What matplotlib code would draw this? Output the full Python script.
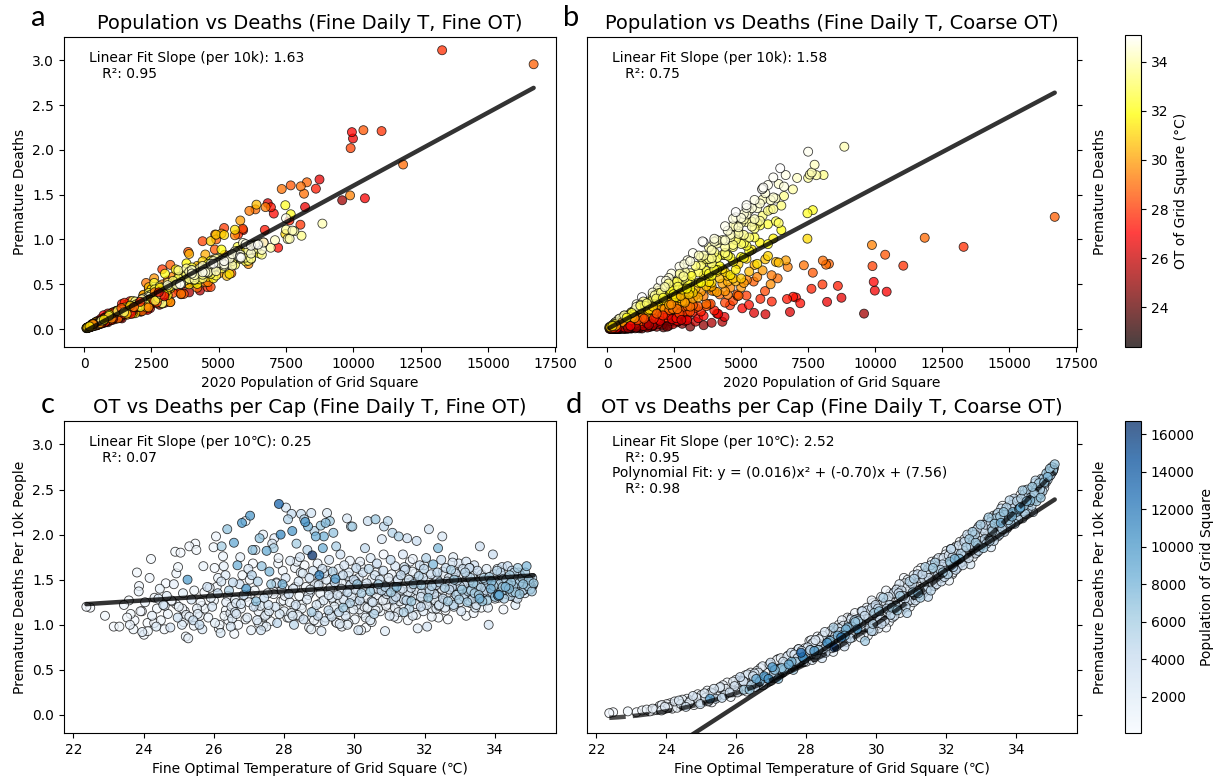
import numpy as np
import matplotlib
matplotlib.use("Agg")
import matplotlib.pyplot as plt

# ---- data (one entry per grid square) ----
ot_fine = [
    22.37, 22.48, 22.90, 23.15, 23.31, 23.44, 23.53, 23.61, 23.63, 23.71,
    23.74, 23.81, 23.86, 23.87, 23.91, 23.96, 24.01, 24.04, 24.11, 24.17,
    24.21, 24.24, 24.31, 24.36, 24.38, 24.46, 24.49, 24.56, 24.59, 24.66,
    24.69, 24.76, 24.79, 24.86, 24.90, 24.93, 24.97, 25.00, 25.05, 25.09,
    25.12, 25.17, 25.20, 25.25, 25.27, 25.30, 25.36, 25.41, 25.44, 25.47,
    25.50, 25.54, 25.59, 25.62, 25.67, 25.70, 25.74, 25.81, 25.84, 25.91,
    25.95, 25.99, 26.03, 26.06, 26.11, 26.14, 26.19, 26.22, 26.26, 26.28,
    26.30, 26.33, 26.35, 26.38, 26.41, 26.43, 26.48, 26.50, 26.54, 26.57,
    26.60, 26.64, 26.67, 26.69, 26.73, 26.75, 26.77, 26.80, 26.85, 26.90,
    26.92, 26.95, 26.98, 27.00, 27.03, 27.06, 27.08, 27.10, 27.13, 27.16,
    27.18, 27.20, 27.23, 27.25, 27.27, 27.30, 27.34, 27.36, 27.40, 27.43,
    27.46, 27.50, 27.53, 27.55, 27.58, 27.61, 27.63, 27.66, 27.70, 27.72,
    27.75, 27.78, 27.80, 27.83, 27.85, 27.87, 27.90, 27.93, 27.95, 27.98,
    28.00, 28.04, 28.05, 28.09, 28.11, 28.13, 28.16, 28.17, 28.21, 28.23,
    28.26, 28.28, 28.31, 28.33, 28.35, 28.38, 28.41, 28.43, 28.45, 28.48,
    28.50, 28.53, 28.55, 28.57, 28.60, 28.62, 28.65, 28.66, 28.68, 28.71,
    28.72, 28.74, 28.77, 28.78, 28.80, 28.82, 28.85, 28.86, 28.88, 28.90,
    28.92, 28.95, 28.96, 28.98, 29.00, 29.03, 29.04, 29.06, 29.09, 29.10,
    29.12, 29.13, 29.15, 29.18, 29.20, 29.22, 29.25, 29.26, 29.28, 29.30,
    29.32, 29.35, 29.36, 29.38, 29.40, 29.43, 29.44, 29.46, 29.48, 29.50,
    29.52, 29.55, 29.56, 29.59, 29.60, 29.63, 29.64, 29.67, 29.68, 29.71,
    29.72, 29.75, 29.76, 29.79, 29.80, 29.83, 29.84, 29.87, 29.88, 29.90,
    29.92, 29.94, 29.97, 29.98, 30.01, 30.02, 30.05, 30.06, 30.08, 30.11,
    30.12, 30.15, 30.16, 30.19, 30.20, 30.23, 30.24, 30.27, 30.28, 30.30,
    30.32, 30.35, 30.36, 30.38, 30.41, 30.42, 30.45, 30.46, 30.49, 30.50,
    30.52, 30.55, 30.56, 30.58, 30.60, 30.63, 30.64, 30.67, 30.68, 30.70,
    30.72, 30.74, 30.77, 30.78, 30.81, 30.82, 30.84, 30.87, 30.88, 30.90,
    30.92, 30.95, 30.96, 30.99, 31.00, 31.03, 31.04, 31.06, 31.08, 31.11,
    31.12, 31.15, 31.16, 31.18, 31.20, 31.23, 31.24, 31.26, 31.29, 31.30,
    31.32, 31.34, 31.37, 31.38, 31.40, 31.43, 31.44, 31.47, 31.48, 31.50,
    31.52, 31.55, 31.56, 31.58, 31.61, 31.62, 31.65, 31.66, 31.68, 31.71,
    31.72, 31.74, 31.77, 31.78, 31.80, 31.83, 31.84, 31.86, 31.89, 31.90,
    31.92, 31.95, 31.96, 31.98, 32.01, 32.02, 32.04, 32.07, 32.08, 32.10,
    32.12, 32.14, 32.17, 32.18, 32.20, 32.22, 32.24, 32.27, 32.28, 32.30,
    32.32, 32.35, 32.36, 32.38, 32.41, 32.42, 32.44, 32.47, 32.48, 32.50,
    32.52, 32.54, 32.57, 32.58, 32.60, 32.63, 32.64, 32.66, 32.69, 32.70,
    32.72, 32.75, 32.76, 32.78, 32.81, 32.82, 32.84, 32.87, 32.88, 32.90,
    32.92, 32.94, 32.97, 32.98, 33.00, 33.03, 33.04, 33.06, 33.09, 33.10,
    33.12, 33.15, 33.16, 33.18, 33.21, 33.22, 33.24, 33.27, 33.28, 33.30,
    33.32, 33.35, 33.36, 33.38, 33.41, 33.42, 33.44, 33.47, 33.48, 33.50,
    33.52, 33.54, 33.56, 33.57, 33.60, 33.62, 33.64, 33.66, 33.68, 33.70,
    33.72, 33.75, 33.76, 33.78, 33.81, 33.82, 33.84, 33.87, 33.88, 33.90,
    33.92, 33.94, 33.96, 33.98, 34.00, 34.02, 34.04, 34.06, 34.08, 34.10,
    34.12, 34.14, 34.16, 34.18, 34.20, 34.22, 34.24, 34.26, 34.28, 34.30,
    34.32, 34.34, 34.36, 34.38, 34.40, 34.42, 34.44, 34.46, 34.48, 34.50,
    34.52, 34.55, 34.58, 34.60, 34.62, 34.65, 34.68, 34.70, 34.72, 34.75,
    34.78, 34.80, 34.83, 34.86, 34.90, 34.93, 34.96, 35.00, 35.05, 35.10,
    23.95, 24.80, 25.60, 26.40, 27.20, 28.00, 28.80, 29.60, 30.40, 31.20,
    32.00, 32.80, 33.60, 34.40, 35.05, 24.30, 25.10, 26.00, 26.90, 27.70,
    28.50, 29.30, 30.10, 30.90, 31.70, 32.50, 33.30, 34.10, 34.80, 35.08,
    29.00, 29.80, 30.60, 31.40, 32.20, 33.00, 33.80, 34.60, 27.40, 28.20,
    30.00, 30.80, 31.60, 32.40, 33.20, 34.00, 34.70, 26.60, 25.30, 24.60,
    34.85, 34.95, 35.02, 34.70, 34.60, 34.90, 35.06, 34.80, 34.98, 35.04,
    23.58, 24.12, 24.63, 25.14, 25.66, 26.12, 26.58, 27.04, 27.52, 27.96,
    28.44, 28.93, 29.41, 29.87, 30.33, 30.79, 31.25, 31.73, 32.19, 32.66,
    33.14, 33.61, 34.07, 34.54, 24.92, 25.43, 25.88, 26.34, 26.81, 27.27,
    27.69, 28.14, 28.58, 29.02, 29.47, 29.91, 30.37, 30.83, 31.28, 31.76,
    32.23, 32.71, 33.18, 33.64, 34.12, 34.58, 28.32, 28.77, 29.23, 29.69,
    30.14, 30.61, 31.07, 31.52, 31.98, 32.44, 32.93, 33.39, 33.86, 34.33,
    26.02, 26.47, 26.93, 27.38, 27.84, 28.29, 28.74, 29.18, 29.64, 30.09,
    30.55, 31.02, 31.47, 31.94, 32.39, 32.85, 33.31, 33.77, 34.24, 34.69,
    25.21, 25.73, 26.16, 26.63, 27.11, 27.57, 28.02, 28.47, 28.95, 29.39,
    29.83, 30.28, 30.74, 31.19, 31.66, 32.13, 32.59, 33.05, 33.52, 33.99,
    24.42, 24.98, 25.52, 26.08, 26.52, 27.02, 27.49, 27.91, 28.36, 28.84,
    29.27, 29.73, 30.18, 30.66, 31.13, 31.59, 32.06, 32.52, 32.97, 33.44,
    30.45, 30.97, 31.41, 31.87, 32.33, 32.79, 33.25, 33.71, 34.18, 34.64,
    27.32, 27.78, 28.24, 28.69, 29.14, 29.58, 30.03, 30.49, 30.94, 31.42,
    31.89, 32.36, 32.83, 33.28, 33.74, 34.21, 34.67, 35.02, 26.77, 26.21,
]

population = [
    420, 310, 650, 280, 520, 900, 350, 1200, 240, 760,
    180, 540, 1300, 820, 460, 2100, 390, 1050, 130, 700,
    350, 1600, 780, 2300, 260, 1120, 640, 3100, 480, 1850,
    920, 2800, 410, 1450, 260, 680, 3600, 1250, 330, 2050,
    1700, 550, 880, 9586, 1400, 420, 2600, 3900, 760, 300,
    500, 1900, 4300, 720, 2450, 1150, 380, 3300, 860, 1550,
    2900, 620, 1700, 880, 4100, 260, 2350, 5907, 1050, 1350,
    780, 2200, 1500, 6821, 420, 5482, 3000, 1800, 4380, 8743,
    1250, 2650, 8207, 540, 3400, 1600, 920, 9987, 4143, 720,
    10430, 1900, 2800, 460, 9947, 1350, 5041, 7045, 3600, 600,
    1700, 7206, 2250, 5293, 680, 6938, 3200, 6711, 1400, 4000,
    2000, 8609, 900, 3500, 7624, 520, 6143, 2400, 5718, 1500,
    3000, 1200, 4584, 750, 13300, 2700, 11050, 1850, 8034, 400,
    1600, 2500, 2900, 650, 5200, 3800, 1000, 2200, 4398, 9900,
    2100, 4700, 880, 3300, 5891, 1450, 2650, 600, 3100, 3863,
    1300, 2300, 3700, 4866, 10374, 720, 2000, 4852, 7674, 1100,
    3400, 1750, 3200, 5468, 16700, 2800, 920, 4906, 1500, 8275,
    2600, 1200, 4200, 3000, 11850, 800, 6363, 2150, 3700, 8168,
    1900, 8048, 3100, 7340, 2400, 2300, 650, 4500, 2900, 6136,
    1100, 3600, 2000, 5214, 6738, 1650, 4000, 9880, 5600, 700,
    2700, 1400, 4600, 900, 3300, 2100, 1200, 3900, 6100, 2500,
    1800, 3000, 550, 2600, 4400, 1300, 2200, 5000, 3500, 5100,
    2400, 5800, 1600, 3800, 800, 2900, 4300, 1500, 6669, 3200,
    2000, 4100, 1200, 500, 5500, 600, 3400, 2300, 900, 4500,
    1400, 3100, 700, 3900, 4800, 300, 6300, 2200, 1000, 1150,
    2800, 450, 5300, 3000, 6400, 1100, 4200, 900, 5900, 250,
    3300, 600, 4500, 2400, 1200, 3700, 4700, 1900, 5000, 700,
    2000, 4900, 350, 1500, 2700, 4400, 6000, 800, 5200, 3900,
    3200, 1100, 2600, 4100, 7473, 400, 2900, 5600, 1300, 2200,
    4300, 600, 3000, 2500, 5400, 1300, 3800, 850, 4600, 3400,
    2100, 3600, 4800, 450, 2900, 6200, 1250, 2400, 5700, 1000,
    3100, 700, 3800, 2200, 1800, 5000, 350, 3500, 4200, 6000,
    2500, 3900, 1400, 4700, 550, 2300, 5100, 2900, 1100, 6500,
    3000, 4500, 800, 3700, 5300, 1600, 7674, 4100, 450, 1700,
    3800, 950, 4600, 7473, 3100, 5200, 600, 4000, 1500, 2600,
    4300, 1300, 5500, 2200, 3900, 700, 3000, 6000, 2700, 4400,
    3400, 5700, 500, 4100, 1800, 4900, 6300, 1000, 3700, 5100,
    4500, 1200, 2400, 5600, 3900, 800, 2800, 6400, 3500, 4700,
    3700, 5000, 1500, 2800, 6100, 600, 5300, 4000, 2600, 4800,
    5500, 1700, 4400, 6500, 3100, 5800, 900, 2900, 4900, 3800,
    4700, 6000, 8075, 3500, 5100, 1400, 6600, 3900, 5400, 2100,
    5200, 4400, 1900, 6200, 4800, 2900, 5700, 4100, 7807, 7500,
    4600, 3800, 5400, 2400, 6931, 5000, 3600, 4900, 7561, 7633,
    8850, 5100, 4300, 5800, 3900, 6285, 4700, 5500, 4100, 7740,
    5300, 4600, 4000, 6100, 7088, 5600, 4900, 6400, 4400, 5200,
    5700, 4800, 6200, 5100, 4500, 5900, 5400, 6600, 4700, 5000,
    5500, 6663, 5200, 6000, 7500, 5800, 6200, 5781, 5828, 6458,
    150, 220, 90, 310, 180, 260, 120, 340, 200, 280,
    160, 240, 110, 300, 80, 450, 600, 380, 520, 700,
    650, 480, 900, 750, 560, 820, 990, 640, 1100, 1300,
    1400, 1600, 1100, 1500, 1250, 1700, 1350, 1900, 1000, 1800,
    2000, 2300, 1900, 2100, 2500, 2200, 2400, 2600, 1700, 1500,
    2700, 3200, 3600, 4000, 2300, 4400, 4800, 3000, 5200, 2000,
    230, 610, 170, 840, 290, 1150, 470, 95, 1320, 560,
    390, 140, 760, 1080, 210, 530, 1460, 320, 880, 160,
    940, 260, 1230, 430, 190, 720, 1350, 280, 640, 1010,
    170, 890, 350, 1190, 620, 240, 1570, 430, 90, 760,
    1380, 570, 210, 1030, 330, 1700, 480, 1260, 300, 1840,
    820, 110, 1640, 540, 1250, 390, 1920, 710, 150, 1090,
    370, 1490, 210, 780, 1060, 140, 2050, 460, 1310, 670,
    1530, 260, 990, 2080, 340, 1420, 580, 1780, 470, 2200,
    1080, 160, 640, 1970, 330, 2260, 720, 1130, 190, 880,
    2140, 580, 1690, 120, 930, 2370, 310, 1240, 2010, 640,
    2240, 780, 1560, 360, 2420, 870, 1740, 240, 1380, 2320,
    2450, 1020, 330, 2190, 1580, 200, 2480, 920, 1830, 2290,
    2310, 1710, 2560, 730, 2090, 2620, 1480, 2710, 2150, 2880,
    2590, 2080, 2700, 1850, 2620, 2390, 2900, 2750, 3050, 2810,
    2970, 3150, 2640, 3300, 2850, 3420, 3100, 3560, 2980, 2770,
]

# premature deaths per 10k people, fine optimal temperature (panels a, c)
rate_fine = [
    1.20, 1.19, 1.10, 0.98, 0.98, 1.22, 1.08, 1.00, 1.12, 0.95,
    1.05, 1.58, 1.37, 1.43, 1.15, 0.92, 0.89, 1.25, 1.02, 1.52,
    1.73, 1.10, 1.30, 0.98, 1.18, 1.40, 1.05, 1.22, 0.95, 1.32,
    1.12, 0.97, 1.27, 1.45, 1.81, 1.57, 1.08, 1.20, 1.80, 1.00,
    1.35, 1.15, 0.87, 1.50, 0.85, 1.87, 1.28, 1.05, 1.38, 1.90,
    1.83, 1.12, 1.00, 1.25, 0.95, 1.65, 1.18, 1.42, 1.08, 1.30,
    1.20, 1.86, 1.02, 1.98, 1.35, 0.96, 0.91, 1.87, 1.76, 1.65,
    1.10, 1.55, 1.25, 2.06, 1.05, 1.38, 0.98, 1.20, 1.47, 1.91,
    1.28, 1.12, 1.66, 1.00, 1.45, 1.75, 1.18, 2.13, 1.33, 2.15,
    1.40, 1.08, 1.62, 1.25, 2.21, 0.94, 1.55, 1.83, 1.20, 1.38,
    1.83, 1.26, 1.05, 1.48, 1.15, 1.96, 0.94, 1.65, 2.00, 1.30,
    1.10, 1.82, 1.35, 1.22, 1.59, 1.04, 1.45, 1.90, 1.85, 1.96,
    1.20, 1.47, 1.02, 1.68, 2.34, 1.12, 2.00, 1.38, 1.45, 1.27,
    1.15, 1.52, 2.30, 1.08, 2.17, 1.34, 1.25, 1.71, 2.23, 2.04,
    1.40, 1.00, 1.63, 1.22, 1.90, 1.11, 1.48, 1.32, 1.75, 2.23,
    1.18, 1.57, 1.06, 2.17, 2.14, 1.42, 1.28, 1.83, 2.09, 0.97,
    1.52, 1.36, 2.24, 1.14, 1.77, 1.60, 1.05, 2.04, 1.45, 1.98,
    1.22, 1.68, 1.10, 1.44, 1.55, 1.35, 2.10, 0.93, 1.62, 1.85,
    1.27, 1.98, 1.04, 2.13, 1.50, 2.24, 1.38, 1.16, 1.72, 2.15,
    1.41, 1.09, 1.30, 1.59, 2.02, 1.20, 1.47, 1.51, 1.87, 1.02,
    1.33, 1.62, 1.14, 1.25, 1.78, 1.40, 0.98, 1.55, 1.19, 1.66,
    1.28, 1.10, 1.47, 2.18, 1.36, 1.02, 1.58, 1.24, 1.44, 2.09,
    1.31, 2.09, 1.17, 1.50, 1.06, 1.39, 1.63, 1.22, 1.45, 0.94,
    1.52, 1.27, 1.70, 0.94, 1.35, 1.13, 1.58, 1.42, 1.20, 1.85,
    1.08, 1.46, 1.30, 2.15, 1.62, 1.19, 1.37, 1.74, 1.03, 1.51,
    1.25, 1.40, 1.12, 1.55, 2.17, 1.33, 1.68, 1.18, 1.45, 1.29,
    1.50, 1.15, 1.38, 1.95, 1.27, 1.60, 2.09, 0.93, 1.42, 1.21,
    1.34, 2.15, 1.23, 1.48, 1.10, 1.72, 1.36, 1.56, 2.02, 1.28,
    1.42, 1.19, 1.65, 1.31, 1.42, 1.07, 1.50, 1.98, 1.26, 1.38,
    1.55, 1.22, 1.40, 1.78, 1.14, 1.33, 1.61, 1.46, 1.27, 1.96,
    1.36, 1.50, 1.18, 1.70, 1.41, 1.26, 1.59, 1.10, 1.45, 1.33,
    1.47, 1.23, 1.93, 1.38, 0.96, 1.54, 1.31, 1.66, 1.20, 1.44,
    1.35, 1.52, 1.15, 1.62, 1.28, 1.41, 1.74, 0.98, 1.49, 1.30,
    2.06, 1.38, 1.25, 1.56, 1.43, 1.18, 1.67, 1.34, 1.50, 1.27,
    1.44, 1.31, 1.58, 1.85, 1.22, 1.47, 1.36, 1.72, 1.40, 1.98,
    1.29, 1.55, 1.41, 1.19, 1.63, 1.35, 1.48, 1.26, 1.52, 1.39,
    1.46, 1.61, 1.30, 1.42, 1.75, 1.22, 1.50, 1.37, 1.57, 1.33,
    1.49, 1.36, 1.68, 1.28, 1.43, 1.55, 1.15, 1.39, 1.62, 1.31,
    1.44, 1.58, 1.34, 1.70, 1.25, 1.48, 1.37, 1.63, 1.40, 1.52,
    1.38, 1.55, 1.29, 1.46, 1.66, 1.35, 1.50, 1.22, 1.43, 1.60,
    1.47, 1.33, 1.29, 1.87, 1.41, 1.56, 1.26, 1.44, 1.52, 1.37,
    1.50, 1.38, 1.62, 1.27, 1.45, 1.00, 1.53, 1.35, 1.40, 1.48,
    1.36, 1.78, 1.43, 1.56, 1.31, 1.47, 1.39, 1.60, 1.33, 1.32,
    1.33, 1.45, 1.58, 1.37, 1.64, 1.42, 1.51, 1.29, 1.47, 1.42,
    1.50, 1.38, 1.65, 1.44, 1.40, 1.55, 1.32, 1.47, 1.60, 1.36,
    1.43, 1.58, 1.36, 1.50, 1.41, 1.63, 1.46, 1.34, 1.55, 1.48,
    1.52, 1.45, 1.39, 1.58, 1.65, 1.43, 1.50, 1.39, 1.37, 1.46,
    1.15, 1.26, 1.10, 1.32, 1.20, 1.41, 1.08, 1.35, 1.24, 1.50,
    1.30, 1.45, 1.38, 1.52, 1.42, 1.02, 1.18, 1.27, 1.06, 1.34,
    1.22, 1.12, 1.39, 1.28, 1.18, 1.36, 1.47, 1.30, 1.41, 1.44,
    1.50, 1.00, 1.16, 1.60, 1.09, 1.25, 1.19, 1.33, 0.99, 1.13,
    1.26, 1.44, 1.36, 1.21, 1.55, 1.29, 1.49, 1.14, 1.09, 1.21,
    1.35, 1.48, 1.40, 1.55, 1.30, 1.44, 1.52, 1.38, 1.46, 1.42,
    1.27, 0.93, 1.46, 1.03, 1.21, 1.52, 0.90, 1.34, 1.12, 1.60,
    1.09, 1.44, 1.26, 1.71, 0.97, 1.38, 1.14, 1.57, 1.29, 1.06,
    1.48, 1.19, 1.62, 1.31, 1.23, 0.99, 1.41, 1.16, 1.55, 1.02,
    1.37, 1.08, 1.66, 1.24, 1.03, 1.49, 1.19, 1.78, 1.32, 1.11,
    1.45, 1.27, 1.10, 1.54, 1.36, 1.22, 1.42, 0.95, 1.60, 1.28,
    1.17, 1.58, 1.35, 1.05, 1.66, 1.25, 1.43, 1.13, 1.50, 1.34,
    1.63, 1.13, 1.31, 1.02, 1.74, 1.20, 1.39, 1.08, 1.46, 1.23,
    1.39, 1.18, 1.62, 1.29, 1.08, 1.52, 1.24, 1.41, 1.17, 1.56,
    1.11, 1.36, 1.00, 1.24, 1.68, 1.15, 1.32, 1.58, 1.03, 1.37,
    1.54, 1.11, 1.43, 1.21, 1.73, 1.36, 1.16, 1.62, 1.30, 1.45,
    1.29, 1.64, 1.18, 1.42, 1.07, 1.50, 0.98, 1.26, 1.70, 1.15,
    1.33, 1.16, 1.65, 1.40, 1.09, 1.47, 1.22, 1.59, 1.35, 1.19,
    1.05, 1.52, 1.28, 1.44, 1.18, 1.69, 1.27, 1.38, 1.55, 1.29,
    1.21, 1.46, 1.10, 1.33, 1.57, 1.01, 1.48, 1.26, 1.37, 1.64,
    1.31, 1.50, 1.20, 1.63, 1.36, 1.45, 1.58, 1.41, 1.23, 1.48,
]

# premature deaths per 10k people, coarse optimal temperature (panels b, d)
rate_coarse = [
    0.02, 0.03, 0.04, 0.03, 0.05, 0.06, 0.04, 0.07, 0.05, 0.06,
    0.07, 0.10, 0.05, 0.11, 0.06, 0.09, 0.12, 0.08, 0.13, 0.07,
    0.12, 0.15, 0.08, 0.16, 0.10, 0.17, 0.11, 0.09, 0.18, 0.14,
    0.16, 0.21, 0.11, 0.19, 0.23, 0.14, 0.12, 0.22, 0.17, 0.24,
    0.19, 0.27, 0.15, 0.18, 0.25, 0.14, 0.29, 0.18, 0.26, 0.21,
    0.26, 0.31, 0.19, 0.33, 0.22, 0.29, 0.36, 0.25, 0.20, 0.37,
    0.32, 0.39, 0.25, 0.36, 0.42, 0.27, 0.38, 0.28, 0.44, 0.31,
    0.26, 0.45, 0.34, 0.28, 0.47, 0.33, 0.43, 0.39, 0.31, 0.40,
    0.49, 0.33, 0.37, 0.52, 0.36, 0.54, 0.42, 0.43, 0.41, 0.47,
    0.40, 0.56, 0.58, 0.38, 0.53, 0.51, 0.46, 0.50, 0.41, 0.61,
    0.44, 0.40, 0.51, 0.51, 0.48, 0.52, 0.59, 0.50, 0.57, 0.52,
    0.65, 0.56, 0.61, 0.56, 0.59, 0.59, 0.50, 0.67, 0.59, 0.62,
    0.63, 0.73, 0.58, 0.68, 0.69, 0.71, 0.64, 0.59, 0.62, 0.64,
    0.59, 0.75, 0.68, 0.82, 0.72, 0.72, 0.79, 0.61, 0.67, 0.71,
    0.83, 0.67, 0.79, 0.72, 0.72, 0.76, 0.69, 0.86, 0.63, 0.73,
    0.78, 0.92, 0.69, 0.76, 0.80, 0.89, 0.82, 0.80, 0.82, 0.80,
    0.74, 0.90, 0.83, 0.97, 0.75, 0.87, 0.94, 0.76, 0.92, 0.88,
    0.96, 0.80, 0.92, 0.85, 0.86, 0.89, 0.89, 0.99, 0.76, 0.88,
    0.90, 0.95, 0.81, 0.97, 0.88, 1.01, 0.94, 0.85, 1.06, 0.98,
    0.86, 1.02, 0.95, 1.05, 1.03, 0.99, 1.06, 0.95, 1.04, 0.96,
    1.07, 0.86, 1.01, 0.93, 1.15, 0.98, 0.89, 1.10, 0.82, 1.03,
    0.99, 1.16, 0.88, 1.07, 0.96, 1.13, 1.04, 0.93, 1.19, 1.01,
    0.93, 1.13, 1.04, 1.22, 0.99, 1.09, 1.18, 0.96, 1.15, 1.06,
    1.22, 1.01, 1.16, 1.08, 1.30, 1.13, 1.04, 1.25, 0.97, 1.18,
    1.14, 1.31, 1.03, 1.22, 1.11, 1.28, 1.19, 1.08, 1.34, 1.16,
    1.10, 1.30, 1.21, 1.39, 1.16, 1.26, 1.35, 1.13, 1.32, 1.23,
    1.38, 1.17, 1.32, 1.24, 1.46, 1.29, 1.20, 1.41, 1.13, 1.34,
    1.31, 1.48, 1.20, 1.39, 1.28, 1.45, 1.36, 1.25, 1.51, 1.33,
    1.27, 1.47, 1.38, 1.56, 1.35, 1.43, 1.52, 1.30, 1.49, 1.40,
    1.56, 1.35, 1.50, 1.42, 1.64, 1.47, 1.38, 1.59, 1.31, 1.52,
    1.49, 1.66, 1.38, 1.57, 1.46, 1.63, 1.54, 1.43, 1.69, 1.51,
    1.45, 1.65, 1.56, 1.74, 1.51, 1.61, 1.70, 1.48, 1.67, 1.58,
    1.74, 1.53, 1.68, 1.60, 1.82, 1.65, 1.56, 1.77, 1.49, 1.70,
    1.67, 1.84, 1.56, 1.75, 1.64, 1.81, 1.73, 1.61, 1.87, 1.69,
    1.63, 1.83, 1.74, 1.73, 1.69, 1.79, 1.88, 1.66, 1.85, 1.76,
    1.92, 1.71, 1.86, 1.78, 2.00, 1.83, 1.74, 1.95, 1.67, 1.88,
    1.86, 2.03, 1.75, 1.94, 1.83, 2.00, 1.91, 1.80, 2.06, 1.88,
    1.82, 2.02, 1.93, 2.11, 1.88, 1.98, 2.07, 1.85, 2.04, 1.95,
    2.11, 1.90, 2.05, 1.97, 2.19, 2.02, 1.93, 2.14, 1.86, 2.07,
    2.04, 2.21, 1.93, 2.12, 2.01, 2.18, 2.09, 1.98, 2.24, 2.06,
    2.00, 2.20, 2.13, 2.29, 2.06, 2.16, 2.25, 2.03, 2.22, 2.13,
    2.30, 2.09, 2.24, 2.16, 2.38, 2.21, 2.12, 2.33, 2.20, 2.25,
    2.23, 2.40, 2.12, 2.31, 2.25, 2.37, 2.28, 2.17, 2.28, 2.29,
    2.30, 2.40, 2.31, 2.49, 2.26, 2.32, 2.45, 2.23, 2.42, 2.37,
    2.50, 2.29, 2.44, 2.36, 2.38, 2.41, 2.32, 2.53, 2.25, 2.46,
    2.46, 2.60, 2.37, 2.52, 2.44, 2.57, 2.50, 2.41, 2.62, 2.48,
    2.62, 2.58, 2.60, 2.68, 2.64, 2.70, 2.73, 2.70, 2.71, 2.78,
    0.10, 0.13, 0.30, 0.33, 0.62, 0.60, 0.95, 1.00, 1.35, 1.38,
    1.60, 2.00, 2.08, 2.46, 2.72, 0.13, 0.15, 0.36, 0.42, 0.70,
    0.72, 1.08, 1.10, 1.50, 1.52, 1.90, 2.00, 2.35, 2.52, 2.74,
    0.97, 1.02, 1.40, 1.44, 1.80, 1.90, 2.28, 2.42, 0.52, 0.80,
    1.20, 1.30, 1.62, 1.70, 2.10, 2.18, 2.58, 0.36, 0.24, 0.11,
    2.58, 2.65, 2.69, 2.52, 2.48, 2.61, 2.72, 2.56, 2.66, 2.70,
    0.05, 0.09, 0.15, 0.20, 0.27, 0.38, 0.35, 0.55, 0.51, 0.74,
    0.68, 1.00, 0.93, 1.27, 1.14, 1.52, 1.33, 1.72, 1.58, 1.99,
    1.95, 2.32, 2.21, 2.57, 0.18, 0.23, 0.25, 0.42, 0.38, 0.63,
    0.55, 0.83, 0.71, 1.05, 0.90, 1.24, 1.16, 1.44, 1.63, 1.51,
    1.85, 1.80, 2.16, 2.04, 2.44, 2.40, 0.87, 0.70, 1.07, 0.98,
    1.31, 1.21, 1.55, 1.43, 1.78, 1.69, 2.09, 1.98, 2.31, 2.27,
    0.26, 0.44, 0.37, 0.61, 0.58, 0.82, 0.77, 1.08, 0.97, 1.26,
    1.36, 1.29, 1.61, 1.55, 1.92, 1.82, 2.19, 2.11, 2.49, 2.45,
    0.16, 0.31, 0.29, 0.47, 0.44, 0.69, 0.62, 0.88, 0.81, 1.13,
    1.05, 1.38, 1.26, 1.60, 1.47, 1.84, 1.73, 2.11, 2.02, 2.38,
    0.12, 0.14, 0.30, 0.27, 0.46, 0.41, 0.66, 0.59, 0.84, 0.92,
    0.91, 1.19, 1.12, 1.45, 1.38, 1.70, 1.57, 1.95, 1.86, 2.22,
    1.17, 1.46, 1.39, 1.74, 1.67, 2.03, 1.94, 2.28, 2.18, 2.51,
    0.47, 0.73, 0.64, 0.93, 0.85, 1.15, 1.02, 1.35, 1.27, 1.57,
    1.52, 1.88, 1.79, 2.14, 2.07, 2.40, 2.44, 2.75, 0.33, 0.37,
]

# fitted lines as drawn in the reference: (slope, intercept) / polynomial coefs
fit_a = (1.63e-4, -0.03)
fit_b = (1.58e-4, 0.0)
fit_c = (0.025, 0.67)
fit_d = (0.2517, -6.445)
poly_d = (0.01527, -0.663, 7.158)

titles = ["Population vs Deaths (Fine Daily T, Fine OT)",
          "Population vs Deaths (Fine Daily T, Coarse OT)",
          "OT vs Deaths per Cap (Fine Daily T, Fine OT)",
          "OT vs Deaths per Cap (Fine Daily T, Coarse OT)"]
letters = ["a", "b", "c", "d"]
annot = ["Linear Fit Slope (per 10k): 1.63\n   R\u00b2: 0.95",
         "Linear Fit Slope (per 10k): 1.58\n   R\u00b2: 0.75",
         "Linear Fit Slope (per 10\u2103): 0.25\n   R\u00b2: 0.07",
         "Linear Fit Slope (per 10\u2103): 2.52\n   R\u00b2: 0.95\n"
         "Polynomial Fit: y = (0.016)x\u00b2 + (-0.70)x + (7.56)\n   R\u00b2: 0.98"]

# ---- derived quantities ----
pop = np.array(population, dtype=float)
T = np.array(ot_fine)
rf = np.array(rate_fine)
rc = np.array(rate_coarse)
deaths_fine = rf * pop / 1e4
deaths_coarse = rc * pop / 1e4
order = np.argsort(pop, kind="stable")   # most populous squares drawn on top in c, d

W, H = 1219, 776
fig = plt.figure(figsize=(W / 100, H / 100), dpi=100)


def rect(l, t, r, b):
    return [l / W, 1 - b / H, (r - l) / W, (b - t) / H]


ax_a = fig.add_axes(rect(64, 37, 556, 347))
ax_b = fig.add_axes(rect(587, 37, 1077, 347))
cax1 = fig.add_axes(rect(1125, 35, 1141, 347))
ax_c = fig.add_axes(rect(64, 421, 556, 733))
ax_d = fig.add_axes(rect(587, 421, 1077, 733))
cax2 = fig.add_axes(rect(1125, 421, 1141, 733))

sc_kw = dict(s=42, alpha=0.75, edgecolors="black", linewidths=0.6)
line_kw = dict(color="black", lw=3.2, alpha=0.8, solid_capstyle="round")

sc_a = ax_a.scatter(pop, deaths_fine, c=T, cmap="hot", **sc_kw)
sc_b = ax_b.scatter(pop, deaths_coarse, c=T, cmap="hot", **sc_kw)
sc_c = ax_c.scatter(T[order], rf[order], c=pop[order], cmap="Blues", **sc_kw)
sc_d = ax_d.scatter(T[order], rc[order], c=pop[order], cmap="Blues", **sc_kw)

px = np.array([pop.min(), pop.max()])
ax_a.plot(px, fit_a[0] * px + fit_a[1], **line_kw)
ax_b.plot(px, fit_b[0] * px + fit_b[1], **line_kw)
tx = np.array([T.min(), T.max()])
ax_c.plot(tx, fit_c[0] * tx + fit_c[1], **line_kw)
ax_d.plot(tx, fit_d[0] * tx + fit_d[1], **line_kw)
tt = np.linspace(T.min(), T.max(), 200)
ax_d.plot(tt, np.polyval(poly_d, tt), color="black", lw=3.2, alpha=0.7, ls="--")

for ax, title, txt in zip([ax_a, ax_b, ax_c, ax_d], titles, annot):
    ax.set_title(title, fontsize=14, pad=6)
    ax.text(0.05, 0.955, txt, transform=ax.transAxes, va="top", ha="left",
            fontsize=10, linespacing=1.15)
    ax.set_ylim(-0.2, 3.26)
    ax.set_yticks([0, 0.5, 1.0, 1.5, 2.0, 2.5, 3.0])
    ax.tick_params(labelsize=10)

for ax in (ax_a, ax_b):
    ax.set_xlabel("2020 Population of Grid Square", fontsize=10)
    ax.set_xticks([0, 2500, 5000, 7500, 10000, 12500, 15000, 17500])
for ax in (ax_c, ax_d):
    ax.set_xlabel("Fine Optimal Temperature of Grid Square (\u2103)", fontsize=10)

ax_a.set_ylabel("Premature Deaths", fontsize=10)
ax_c.set_ylabel("Premature Deaths Per 10k People", fontsize=10)
for ax, lab in ((ax_b, "Premature Deaths"), (ax_d, "Premature Deaths Per 10k People")):
    ax.yaxis.tick_right()
    ax.tick_params(labelright=False)
    ax.yaxis.set_label_position("right")
    ax.set_ylabel(lab, fontsize=10, labelpad=8)

cb1 = fig.colorbar(sc_b, cax=cax1)
cb1.set_label("OT of Grid Square (\u00b0C)", fontsize=10)
cb1.ax.tick_params(labelsize=10)
cb2 = fig.colorbar(sc_d, cax=cax2)
cb2.set_label("Population of Grid Square", fontsize=10)
cb2.ax.tick_params(labelsize=10)

for (x, y), letter in zip([(38, 18), (571, 18), (48, 405), (574, 405)], letters):
    fig.text(x / W, 1 - y / H, letter, fontsize=21, family=["Lato", "DejaVu Sans"],
             ha="center", va="center")

fig.savefig("out.png", dpi=100)
